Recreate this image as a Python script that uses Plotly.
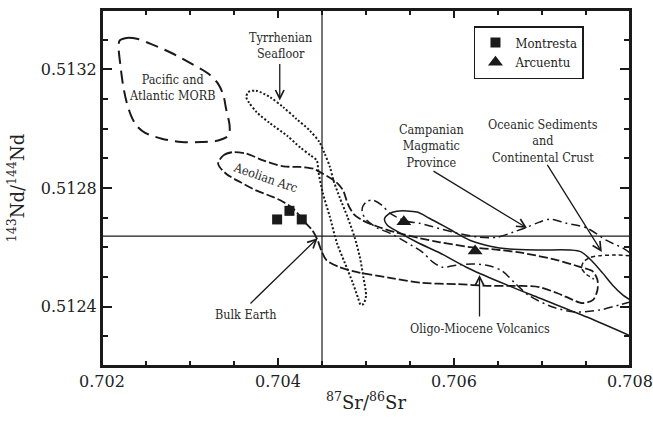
import plotly.graph_objects as go

# ---- Field outlines: 87Sr/86Sr (sr) and 143Nd/144Nd (nd) ----
morb_sr = [0.70220, 0.70228, 0.70241, 0.70256, 0.70279, 0.70302, 0.70321, 0.70332,
           0.70338, 0.70341, 0.70345, 0.70344, 0.70332, 0.70313, 0.70290, 0.70268,
           0.70249, 0.70239, 0.70233, 0.70228, 0.70224, 0.70221, 0.70219, 0.70220]
morb_nd = [0.513297, 0.513306, 0.513302, 0.513285, 0.513255, 0.513218, 0.513185, 0.513151,
           0.513112, 0.513067, 0.513011, 0.512977, 0.512960, 0.512955, 0.512955, 0.512966,
           0.512986, 0.513011, 0.513044, 0.513089, 0.513145, 0.513212, 0.513269, 0.513297]

tyrrh_sr = [0.70366, 0.70375, 0.70391, 0.70406, 0.70421, 0.70436, 0.70447, 0.70453,
            0.70459, 0.70463, 0.70470, 0.70479, 0.70487, 0.70493, 0.70497, 0.70500,
            0.70497, 0.70494, 0.70491, 0.70485, 0.70476, 0.70467, 0.70459, 0.70451,
            0.70446, 0.70444, 0.70437, 0.70425, 0.70410, 0.70391, 0.70376, 0.70367,
            0.70364, 0.70366]
tyrrh_nd = [0.513123, 0.513128, 0.513106, 0.513072, 0.513033, 0.512994, 0.512955, 0.512916,
            0.512871, 0.512826, 0.512769, 0.512702, 0.512634, 0.512567, 0.512500, 0.512436,
            0.512409, 0.512406, 0.512429, 0.512480, 0.512547, 0.512614, 0.512702, 0.512782,
            0.512853, 0.512893, 0.512910, 0.512937, 0.512977, 0.513018, 0.513055, 0.513088,
            0.513106, 0.513123]

aeolian_sr = [0.70332, 0.70338, 0.70349, 0.70364, 0.70383, 0.70406, 0.70425, 0.70440,
              0.70451, 0.70466, 0.70474, 0.70479, 0.70486, 0.70496, 0.70512, 0.70533,
              0.70561, 0.70584, 0.70618, 0.70652, 0.70678, 0.70717, 0.70743, 0.70758,
              0.70763, 0.70763, 0.70758, 0.70746, 0.70735, 0.70717, 0.70697, 0.70678,
              0.70641, 0.70603, 0.70564, 0.70527, 0.70489, 0.70470, 0.70455, 0.70449,
              0.70445, 0.70439, 0.70432, 0.70417, 0.70406, 0.70394, 0.70375, 0.70357,
              0.70341, 0.70332]
aeolian_nd = [0.512882, 0.512910, 0.512921, 0.512916, 0.512893, 0.512873, 0.512871, 0.512865,
              0.512848, 0.512820, 0.512792, 0.512749, 0.512712, 0.512691, 0.512671, 0.512651,
              0.512631, 0.512617, 0.512601, 0.512591, 0.512581, 0.512557, 0.512534, 0.512518,
              0.512490, 0.512456, 0.512423, 0.512412, 0.512423, 0.512446, 0.512466, 0.512470,
              0.512470, 0.512476, 0.512480, 0.512497, 0.512517, 0.512533, 0.512557, 0.512591,
              0.512624, 0.512658, 0.512680, 0.512731, 0.512753, 0.512770, 0.512792, 0.512820,
              0.512848, 0.512882]

campania_sr = [0.70800, 0.70792, 0.70773, 0.70751, 0.70728, 0.70709, 0.70697, 0.70683,
               0.70667, 0.70649, 0.70629, 0.70599, 0.70561, 0.70546, 0.70527, 0.70518,
               0.70508, 0.70501, 0.70496, 0.70496, 0.70501, 0.70513, 0.70527, 0.70546,
               0.70564, 0.70576, 0.70587, 0.70603, 0.70621, 0.70641, 0.70655, 0.70669,
               0.70686, 0.70712, 0.70737, 0.70766, 0.70788, 0.70800]
campania_nd = [0.512581, 0.512597, 0.512624, 0.512665, 0.512681, 0.512695, 0.512685, 0.512668,
               0.512651, 0.512634, 0.512634, 0.512651, 0.512681, 0.512688, 0.512715, 0.512742,
               0.512759, 0.512755, 0.512735, 0.512715, 0.512691, 0.512665, 0.512648, 0.512617,
               0.512584, 0.512550, 0.512533, 0.512540, 0.512544, 0.512537, 0.512520, 0.512480,
               0.512436, 0.512399, 0.512382, 0.512389, 0.512406, 0.512416]

oligo_sr = [0.70800, 0.70792, 0.70780, 0.70769, 0.70758, 0.70745, 0.70731, 0.70697,
            0.70663, 0.70641, 0.70618, 0.70595, 0.70572, 0.70558, 0.70535, 0.70526,
            0.70521, 0.70524, 0.70533, 0.70558, 0.70584, 0.70614, 0.70652, 0.70697,
            0.70751, 0.70800]
oligo_nd = [0.512423, 0.512439, 0.512473, 0.512513, 0.512550, 0.512584, 0.512591, 0.512591,
            0.512594, 0.512604, 0.512624, 0.512661, 0.512698, 0.512719, 0.512722, 0.512713,
            0.512696, 0.512675, 0.512658, 0.512617, 0.512581, 0.512533, 0.512483, 0.512429,
            0.512365, 0.512302]

ocean_sr = [0.70800, 0.70783, 0.70766, 0.70754, 0.70747, 0.70745, 0.70750, 0.70759]
ocean_nd = [0.512572, 0.512574, 0.512572, 0.512565, 0.512550, 0.512530, 0.512510, 0.512493]

# ---- Samples ----
montresta_sr = [0.70399, 0.70413, 0.70427]
montresta_nd = [0.512694, 0.512723, 0.512694]
arcuentu_sr = [0.70543, 0.70624]
arcuentu_nd = [0.512686, 0.512588]

# ---- Bulk Earth reference values ----
bulk_sr = 0.7045
bulk_nd = 0.512638

# ---- Axis ranges ----
sr_range = [0.702, 0.708]
nd_range = [0.5122, 0.5134]

INK = "#1a1a1a"
SERIF = "DejaVu Serif"
SERIF_NARROW = "DejaVu Serif Condensed"

fig = go.Figure()


def outline(sr, nd, dash, width):
    fig.add_trace(go.Scatter(
        x=sr, y=nd, mode="lines", showlegend=False, hoverinfo="skip",
        line=dict(color=INK, width=width, dash=dash, shape="spline", smoothing=0.8),
    ))


outline(morb_sr, morb_nd, "13px,7px", 2.0)
outline(tyrrh_sr, tyrrh_nd, "2px,2px", 2.0)
outline(aeolian_sr, aeolian_nd, "9px,3px", 1.8)
outline(campania_sr, campania_nd, "9px,4px,2px,4px", 1.5)
outline(oligo_sr, oligo_nd, "solid", 1.5)
outline(ocean_sr, ocean_nd, "4px,3px", 1.5)

fig.add_vline(x=bulk_sr, line=dict(color=INK, width=1.2))
fig.add_hline(y=bulk_nd, line=dict(color=INK, width=1.2))

# Plot frame
fig.add_shape(type="rect", xref="paper", yref="paper", x0=0, y0=0, x1=1, y1=1,
              line=dict(color=INK, width=2), fillcolor="rgba(0,0,0,0)", layer="above")

fig.add_trace(go.Scatter(
    x=montresta_sr, y=montresta_nd, mode="markers", name="Montresta",
    marker=dict(symbol="square", size=10, color=INK),
))
fig.add_trace(go.Scatter(
    x=arcuentu_sr, y=arcuentu_nd, mode="markers", name="Arcuentu",
    marker=dict(symbol="triangle-up", size=13, color=INK),
))

# Field labels
labels = [
    ("Pacific and<br>Atlantic MORB", 0.70280, 0.513139, 0),
    ("Tyrrhenian<br>Seafloor", 0.70403, 0.513280, 0),
    ("Aeolian Arc", 0.70386, 0.512836, 19),
    ("Campanian<br>Magmatic<br>Province", 0.70574, 0.512940, 0),
    ("Oceanic Sediments<br>and<br>Continental Crust", 0.70701, 0.512960, 0),
    ("Bulk Earth", 0.70364, 0.512372, 0),
    ("Oligo-Miocene Volcanics", 0.70629, 0.512328, 0),
]
for text, x, y, ang in labels:
    fig.add_annotation(x=x, y=y, text=text, showarrow=False, textangle=ang,
                       font=dict(family=SERIF_NARROW, size=12.5, color="#2a2a2a"))

# Pointer arrows: (head_sr, head_nd, tail_sr, tail_nd)
arrows = [
    (0.70402, 0.513095, 0.70402, 0.513223),
    (0.70445, 0.512631, 0.70367, 0.512406),
    (0.70683, 0.512665, 0.70575, 0.512860),
    (0.70768, 0.512584, 0.70705, 0.512883),
    (0.70629, 0.512507, 0.70629, 0.512362),
]
for hx, hy, ax_, ay_ in arrows:
    fig.add_annotation(x=hx, y=hy, ax=ax_, ay=ay_, xref="x", yref="y",
                       axref="x", ayref="y", text="", showarrow=True,
                       arrowhead=5, arrowsize=1.3, arrowwidth=1.3, arrowcolor=INK)

axis_style = dict(
    showline=True, linewidth=2, linecolor=INK, mirror="ticks",
    ticks="inside", tickwidth=1.5, tickcolor=INK,
    showgrid=False, zeroline=False, automargin=False,
    ticklabeloverflow="allow",
    tickfont=dict(family=SERIF, size=16, color="#222"),
)

fig.update_xaxes(
    range=sr_range, tick0=0.702, dtick=0.002, tickformat=".3f", ticklen=8,
    minor=dict(ticks="inside", dtick=0.0005, ticklen=5, tickwidth=1.5, tickcolor=INK),
    title=dict(text="<sup>87</sup>Sr/<sup>86</sup>Sr", standoff=6,
               font=dict(family=SERIF, size=18, color="#222")),
    **axis_style,
)
fig.update_yaxes(
    range=nd_range, tick0=0.5124, dtick=0.0004, tickformat=".4f", ticklen=10,
    minor=dict(ticks="inside", dtick=0.0001, ticklen=6, tickwidth=1.5, tickcolor=INK),
    title=dict(text="<sup>143</sup>Nd/<sup>144</sup>Nd", standoff=12,
               font=dict(family=SERIF, size=18, color="#222")),
    **axis_style,
)

fig.update_layout(
    template="none",
    width=653, height=423,
    margin=dict(l=102, r=23, t=10, b=57, autoexpand=False),
    paper_bgcolor="white", plot_bgcolor="white",
    font=dict(family=SERIF, color="#222"),
    legend=dict(x=0.7045, y=0.955, xanchor="left", yanchor="top",
                bordercolor=INK, borderwidth=1.5, bgcolor="white",
                font=dict(family=SERIF_NARROW, size=13, color="#222")),
    hovermode=False,
)

fig.write_html("out.html")
